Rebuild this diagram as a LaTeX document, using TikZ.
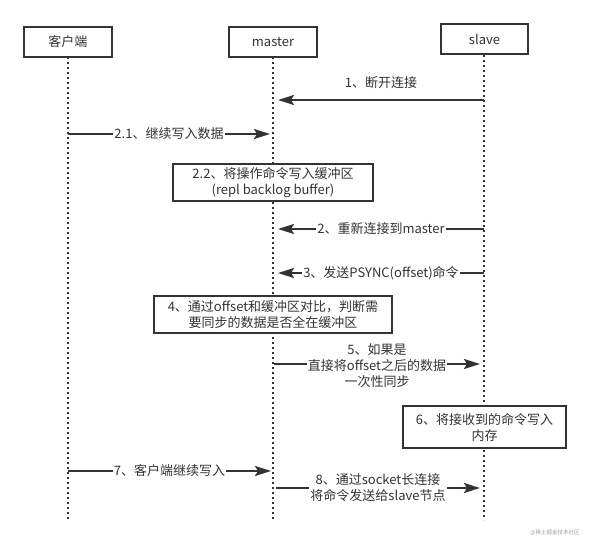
\documentclass[tikz,border=0pt]{standalone}
\usepackage{fontspec}
\setmainfont{Noto Sans CJK SC}
\usetikzlibrary{arrows.meta}
\definecolor{ink}{HTML}{333333}
\definecolor{wm}{HTML}{A0A0A0}
\begin{document}
\begin{tikzpicture}[x=1pt,y=-1pt,
  txt/.style={font=\fontsize{13}{16}\selectfont,text=ink},
  actor/.style={txt,draw=ink,fill=white,line width=2pt,minimum width=88pt,minimum height=30pt,inner sep=0pt},
  note/.style={txt,draw=ink,fill=white,line width=2pt,inner sep=0pt,align=center},
  life/.style={draw=ink,line width=2pt,dash pattern=on 2pt off 3pt},
  msg/.style={draw=ink,line width=2pt,-{Stealth[length=16pt,width=10pt,inset=3pt]}},
  lbl/.style={txt,fill=white,inner sep=1pt,align=center}
]
\useasboundingbox (0,0) rectangle (590,548);
\fill[white] (0,0) rectangle (590,548);

% lifeline ends
\coordinate (cEnd) at (68,520);
\coordinate (mEnd) at (273,520);
\coordinate (sEnd) at (484,520);
\coordinate (cTop) at (68,57);
\coordinate (mTop) at (273,57);
\coordinate (sTop) at (484,55);
\draw[life] (cTop) -- (cEnd);
\draw[life] (mTop) -- (mEnd);
\draw[life] (sTop) -- (sEnd);

% actors
\node[actor] (client) at (68,42) {客户端};
\node[actor] (master) at (273,42) {master};
\node[actor, minimum width=87pt] (slave) at (484.5,39.5) {slave};

% message points
\coordinate (s1) at (484,100);  \coordinate (m1) at (278,100);
\coordinate (c21) at (68,134);  \coordinate (m21) at (270,134);
\coordinate (s2) at (484,229);  \coordinate (m2) at (278,229);
\coordinate (s3) at (484,273);  \coordinate (m3) at (278,273);
\coordinate (m5) at (274,364);  \coordinate (s5) at (480,364);
\coordinate (c7) at (68,471);   \coordinate (m7) at (271,471);
\coordinate (m8) at (276,488);  \coordinate (s8) at (480,488);

% notes
\node[note, minimum width=200pt, minimum height=37pt] (n22) at (273,182.5)
  {2.2、将操作命令写入缓冲区\\(repl backlog buffer)};
\node[note, minimum width=238pt, minimum height=37pt] (n4) at (273,314.5)
  {4、通过offset和缓冲区对比，判断需\\要同步的数据是否全在缓冲区};
\node[note, minimum width=163pt, minimum height=42pt] (n6) at (484.5,427)
  {6、将接收到的命令写入\\内存};

% messages
\draw[msg] (s1) -- node[txt, yshift=17pt] (l1) {1、断开连接} (m1);
\draw[msg] (c21) -- node[lbl] (l21) {2.1、继续写入数据} (m21);
\draw[msg] (s2) -- node[lbl] (l2) {2、重新连接到master} (m2);
\draw[msg] (s3) -- node[lbl] (l3) {3、发送PSYNC(offset)命令} (m3);
\draw[msg] (m5) -- node[lbl, yshift=-2pt] (l5) {5、如果是\\直接将offset之后的数据\\一次性同步} (s5);
\draw[msg] (c7) -- node[lbl] (l7) {7、客户端继续写入} (m7);
\draw[msg] (m8) -- node[lbl] (l8) {8、通过socket长连接\\将命令发送给slave节点} (s8);

% watermark
\node[font=\fontsize{5.5}{6}\selectfont, text=wm] (wmark) at (555,533) {@稀土掘金技术社区};
\end{tikzpicture}
\end{document}
